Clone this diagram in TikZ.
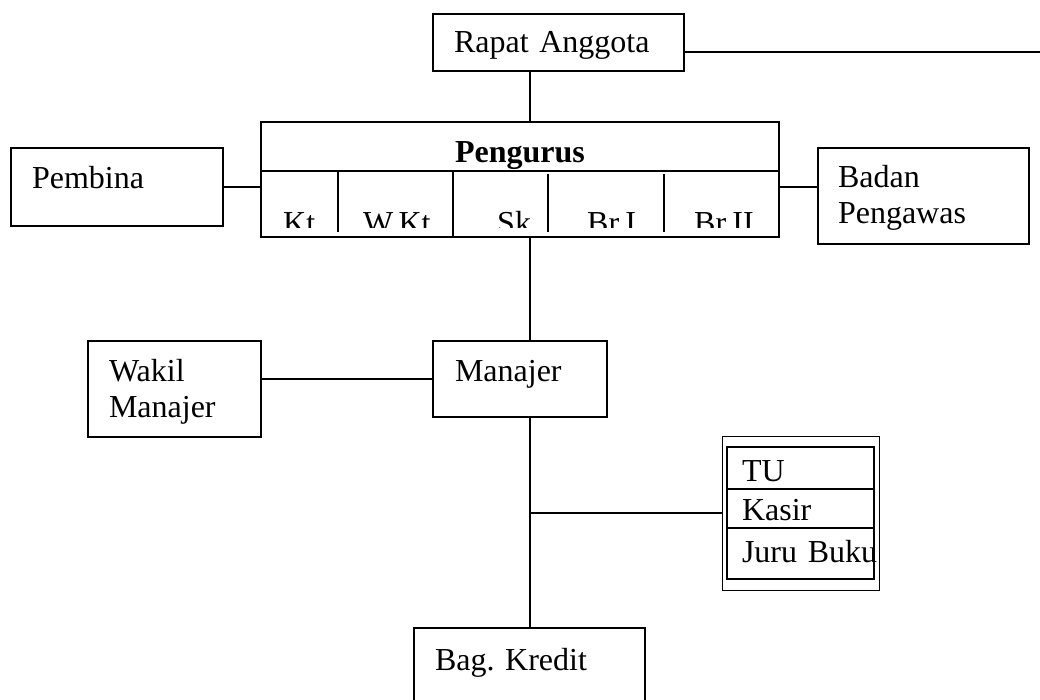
\documentclass[tikz,border=0pt]{standalone}
\usepackage{fontspec}
\setmainfont{Liberation Serif}
\frenchspacing

\begin{document}
\begin{tikzpicture}[
  x=1pt, y=-1pt,
  unit/.style={draw, line width=1.7pt, anchor=north west, align=left,
               inner ysep=0pt, outer sep=0pt,
               font=\fontsize{32}{36}\selectfont},
  post/.style={unit, line width=2.2pt, inner xsep=15pt, text width=117pt},
  cell/.style={anchor=base west, inner sep=0pt,
               font=\fontsize{32}{36}\selectfont},
  link/.style={line width=1.7pt}
]
  \clip (0,0) rectangle (1040,700);
  \coordinate (spine) at (530,0);
  \coordinate (rapatend) at (1040,52);

  \node[unit, inner xsep=21pt, text width=209pt, text height=39pt, text depth=18pt]
    (rapat) at (433,14) {Rapat Anggota};
  \node[unit, inner xsep=0pt, text width=518pt, align=center, text height=41pt, text depth=74pt]
    (pengurus) at (261,122) {\textbf{Pengurus}};
  \node[unit, inner xsep=21pt, text width=170pt, text height=41pt, text depth=37pt]
    (pembina) at (11,148) {Pembina};
  \node[unit, inner xsep=20pt, text width=171pt, text height=40pt, text depth=56pt]
    (badan) at (818,148) {Badan\\Pengawas};
  \node[unit, inner xsep=21pt, text width=131pt, text height=40pt, text depth=56pt]
    (wakil) at (88,341) {Wakil\\Manajer};
  \node[unit, inner xsep=22pt, text width=130pt, text height=40pt, text depth=36pt]
    (manajer) at (433,341) {Manajer};
  \node[unit, inner xsep=21pt, text width=189pt, text height=42pt, text depth=40pt]
    (kredit) at (414,628) {Bag. Kredit};

  % staff block with double border
  \node[draw, line width=1pt, anchor=north west, inner sep=0pt, outer sep=0pt,
        minimum width=157pt, minimum height=154pt] (staff) at (722,436) {};
  \node[post, text height=34pt, text depth=8pt] (tu) at (727,447) {TU};
  \node[post, text height=31pt, text depth=8pt] (kasir) at (727,489) {Kasir};
  \node[post, text height=34pt, text depth=17pt] (buku) at (727,528) {Juru~Buku};

  % pengurus cells
  \draw[link] (261,171) -- (779,171);
  \foreach \x/\ya/\yb in {338/171/232, 453/171/237, 548/174/232, 664/174/232}
    \draw[link] (\x,\ya) -- (\x,\yb);
  \begin{scope}
    \clip (261,171) rectangle (779,228);
    \node[cell] (kt) at (283,234) {Kt};
    \node[cell] (wkt) at (363,234) {W.Kt};
    \node[cell] (sk) at (497,234) {Sk};
    \node[cell] (bri) at (587,234) {Br.I};
    \node[cell] (brii) at (694,234) {Br.II};
  \end{scope}

  \draw[link] (rapat.east |- rapatend) -- (rapatend);
  \draw[link] (rapat.south -| spine) -- (pengurus.north -| spine);
  \draw[link] (pembina.east) -- (pembina.east -| pengurus.west);
  \draw[link] (pengurus.east |- pembina.east) -- (badan.west |- pembina.east);
  \draw[link] (pengurus.south -| spine) -- (manajer.north -| spine);
  \draw[link] (manajer.west) -- (manajer.west -| wakil.east);
  \draw[link] (manajer.south -| spine) -- (kredit.north -| spine);
  \draw[link] (staff.west -| spine) -- (staff.west);
\end{tikzpicture}
\end{document}
